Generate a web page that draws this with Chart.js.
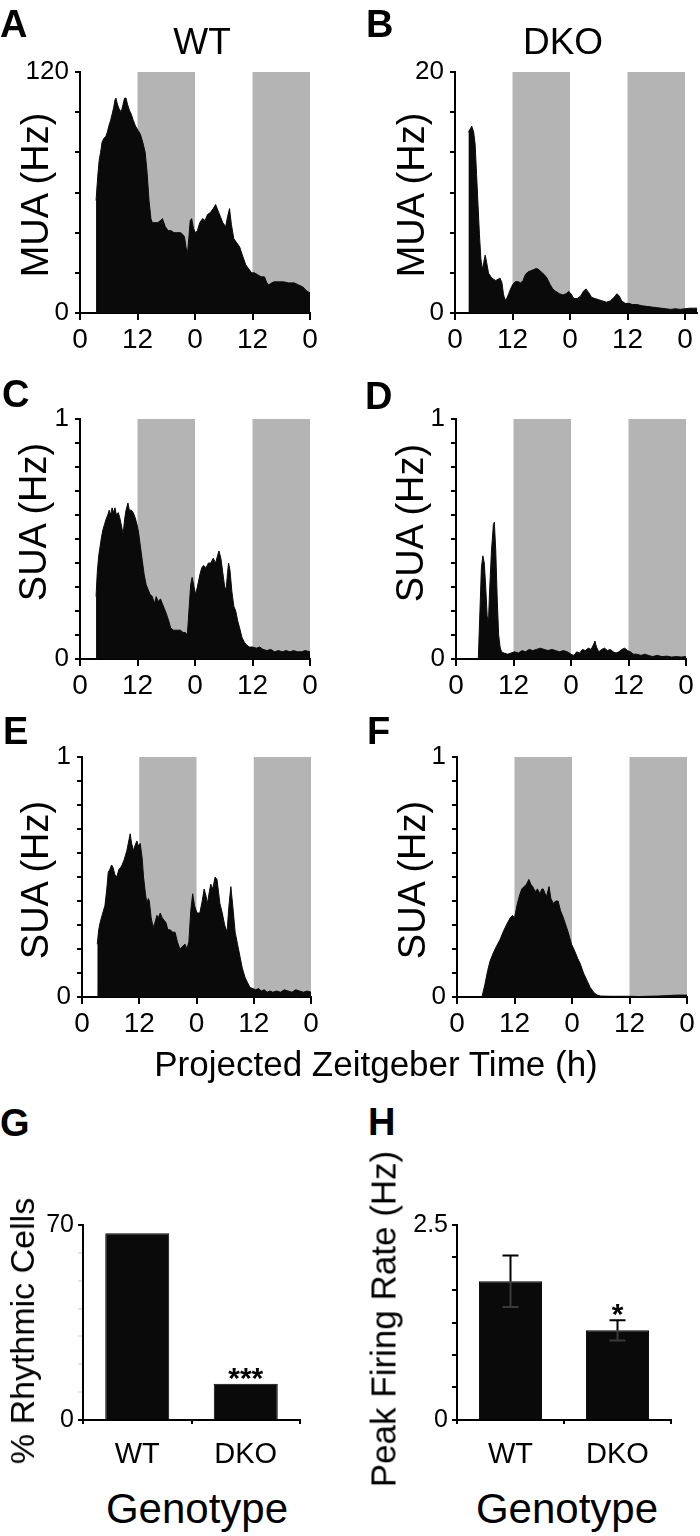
<!DOCTYPE html>
<html>
<head>
<meta charset="utf-8">
<title>Firing rate WT vs DKO</title>
<script src="https://cdn.jsdelivr.net/npm/chart.js"></script>
<style>
  body { margin: 0; background: #fff; }
  #page { position: relative; width: 700px; height: 1536px; overflow: hidden;
          font-family: "Liberation Sans", Arial, sans-serif; color: #000; }
  #page canvas { position: absolute; }
  .txt { position: absolute; line-height: 1; white-space: nowrap; }
  .letter { font-weight: bold; font-size: 38px; }
  .rot { transform: translate(-50%, -50%) rotate(-90deg); }
  .ctr { transform: translateX(-50%); }
</style>
</head>
<body>
<div id="page">
  <canvas id="chartA"></canvas>
  <canvas id="chartB"></canvas>
  <canvas id="chartC"></canvas>
  <canvas id="chartD"></canvas>
  <canvas id="chartE"></canvas>
  <canvas id="chartF"></canvas>
  <canvas id="chartG"></canvas>
  <canvas id="chartH"></canvas>

  <div class="txt letter" style="left:0px;top:5px">A</div>
  <div class="txt letter" style="left:366px;top:5px">B</div>
  <div class="txt letter" style="left:2px;top:375px">C</div>
  <div class="txt letter" style="left:365px;top:377px">D</div>
  <div class="txt letter" style="left:3px;top:712px">E</div>
  <div class="txt letter" style="left:367px;top:712px">F</div>
  <div class="txt letter" style="left:0px;top:1104px">G</div>
  <div class="txt letter" style="left:368px;top:1103px">H</div>

  <div class="txt ctr" style="left:202px;top:23px;font-size:37px">WT</div>
  <div class="txt ctr" style="left:563px;top:23px;font-size:37px">DKO</div>

  <div class="txt rot" style="left:35px;top:195px;font-size:38px">MUA (Hz)</div>
  <div class="txt rot" style="left:411px;top:195px;font-size:38px">MUA (Hz)</div>
  <div class="txt rot" style="left:33px;top:522px;font-size:38px">SUA (Hz)</div>
  <div class="txt rot" style="left:410px;top:523px;font-size:38px">SUA (Hz)</div>
  <div class="txt rot" style="left:35px;top:880px;font-size:38px">SUA (Hz)</div>
  <div class="txt rot" style="left:412px;top:880px;font-size:38px">SUA (Hz)</div>

  <div class="txt ctr" style="left:376px;top:1046px;font-size:35px">Projected Zeitgeber Time (h)</div>

  <div class="txt rot" style="left:22px;top:1331px;font-size:34px">% Rhythmic Cells</div>
  <div class="txt rot" style="left:383px;top:1319px;font-size:35px">Peak Firing Rate (Hz)</div>
  <div class="txt ctr" style="left:197px;top:1488px;font-size:42px">Genotype</div>
  <div class="txt ctr" style="left:567px;top:1488px;font-size:42px">Genotype</div>
</div>

<script>
// x axis: projected zeitgeber time, two days
const timeTicks = [0, 12, 24, 36, 48];
const darkStart = [12, 36];
const darkEnd = [24, 48];

// A - WT multi unit activity (Hz)
const aHours = [3.35, 3.7, 4.0, 4.3, 4.6, 5.0, 5.4, 5.7, 6.0, 6.4, 6.7, 7.0, 7.3, 7.5, 7.8, 8.1, 8.6, 9.0, 9.3, 9.6,
  9.9, 10.3, 10.7, 11.1, 11.6, 12.1, 12.6, 13.1, 13.6, 14.0, 14.4, 14.8, 15.1, 15.6, 16.2, 16.8, 17.2, 17.8, 18.4, 19.0,
  19.6, 20.2, 21.0, 21.5, 21.8, 22.1, 22.4, 22.7, 23.0, 23.3, 23.7, 24.1, 24.5, 25.0, 25.6, 26.1, 26.6, 27.2, 27.8, 28.3,
  28.8, 29.3, 29.8, 30.4, 30.8, 31.2, 31.6, 32.1, 32.7, 33.3, 34.0, 34.6, 35.2, 35.8, 36.4, 37.1, 37.8, 38.5, 39.0, 39.4,
  40.0, 40.5, 41.5, 42.5, 43.5, 44.7, 45.6, 46.5, 47.3, 48.0];
const aRate = [56, 68, 76, 80, 85, 87, 88, 90, 93, 96, 99, 102, 106, 107, 104, 102, 100, 104, 107, 107,
  104, 101, 99, 96, 93, 91, 89, 85, 80, 70, 56, 47, 45, 45, 45, 46, 47, 43, 41, 41,
  40, 40, 40, 39, 38, 33, 29, 37, 46, 47, 42, 40, 41, 45, 47, 46, 49, 50, 52, 54,
  51, 48, 45, 43, 48, 52, 44, 37, 35, 33, 28, 24, 22, 20, 20, 19, 18, 18, 15, 14,
  15, 15.5, 15.5, 15.5, 15, 15, 14, 13, 11, 10];

// B - DKO multi unit activity (Hz)
const bHours = [2.8, 3.2, 3.5, 3.9, 4.2, 4.5, 4.8, 5.1, 5.4, 5.7, 6.0, 6.3, 6.6, 7.0, 7.5, 8.0, 8.5, 9.0, 9.4, 9.8,
  10.1, 10.4, 10.8, 11.2, 11.6, 12.1, 12.6, 13.2, 13.7, 14.2, 14.7, 15.2, 15.8, 16.4, 17.0, 17.5, 18.0, 18.6, 19.2, 19.8,
  20.4, 21.0, 21.8, 22.5, 23.2, 23.7, 24.2, 24.8, 25.5, 26.2, 26.8, 27.3, 27.9, 28.5, 29.2, 30.0, 30.8, 31.6, 32.4, 33.2,
  33.8, 34.3, 34.8, 35.5, 36.3, 37.0, 38.0, 39.0, 40.0, 41.0, 42.0, 43.0, 44.0, 45.0, 46.0, 47.0, 48.0, 49.0, 50.5];
const bRate = [15.0, 15.3, 15.5, 15.0, 14.0, 11.5, 9.0, 6.5, 4.5, 3.6, 4.2, 4.8, 4.2, 3.3, 3.0, 2.8, 2.7, 2.8, 2.9, 2.5,
  1.6, 1.1, 1.2, 1.6, 2.0, 2.4, 2.6, 2.6, 2.5, 2.7, 3.2, 3.4, 3.5, 3.6, 3.7, 3.6, 3.4, 3.2, 2.9, 2.4,
  2.0, 1.8, 1.6, 1.5, 1.6, 1.8, 1.6, 1.2, 1.2, 1.4, 1.8, 2.0, 1.7, 1.3, 1.2, 1.1, 1.0, 0.9, 1.0, 1.3,
  1.6, 1.4, 1.0, 0.8, 0.8, 0.7, 0.7, 0.6, 0.55, 0.5, 0.45, 0.4, 0.35, 0.3, 0.35, 0.3, 0.35, 0.4, 0.4];

// C - WT single unit activity (Hz)
const cHours = [3.35, 3.6, 3.9, 4.2, 4.5, 4.8, 5.1, 5.4, 5.8, 6.1, 6.4, 6.7, 7.0, 7.3, 7.6, 8.0, 8.4, 8.7, 9.0, 9.3,
  9.6, 10.0, 10.3, 10.7, 11.1, 11.5, 11.9, 12.2, 12.6, 13.0, 13.4, 13.8, 14.2, 14.6, 15.1, 15.5, 15.9, 16.3, 16.8, 17.2,
  17.6, 18.0, 18.5, 18.9, 19.5, 20.2, 21.0, 21.5, 22.0, 22.4, 22.8, 23.1, 23.4, 23.8, 24.1, 24.5, 25.0, 25.4, 25.8, 26.3,
  26.8, 27.3, 27.8, 28.3, 28.7, 29.0, 29.4, 29.8, 30.2, 30.5, 30.8, 31.0, 31.3, 31.7, 32.1, 32.5, 32.9, 33.3, 33.8, 34.3,
  34.7, 35.3, 36.0, 36.8, 37.5, 38.2, 39.0, 39.8, 40.6, 41.4, 42.2, 43.0, 43.8, 44.6, 45.4, 46.2, 47.0, 48.0];
const cRate = [0.26, 0.36, 0.43, 0.47, 0.51, 0.54, 0.56, 0.58, 0.60, 0.62, 0.60, 0.63, 0.61, 0.63, 0.60, 0.61, 0.58, 0.55, 0.52, 0.58,
  0.62, 0.65, 0.62, 0.62, 0.61, 0.59, 0.56, 0.53, 0.47, 0.41, 0.35, 0.31, 0.29, 0.27, 0.26, 0.23, 0.26, 0.24, 0.25, 0.23,
  0.21, 0.19, 0.16, 0.13, 0.12, 0.12, 0.12, 0.11, 0.11, 0.10, 0.22, 0.31, 0.34, 0.30, 0.27, 0.30, 0.35, 0.38, 0.39, 0.38,
  0.40, 0.40, 0.42, 0.40, 0.43, 0.45, 0.42, 0.36, 0.30, 0.29, 0.36, 0.40, 0.37, 0.28, 0.22, 0.20, 0.16, 0.13, 0.09, 0.07,
  0.06, 0.05, 0.05, 0.045, 0.05, 0.04, 0.035, 0.04, 0.03, 0.035, 0.03, 0.035, 0.03, 0.035, 0.03, 0.03, 0.035, 0.03];

// D - DKO single unit activity (Hz)
const dHours = [4.65, 5.0, 5.3, 5.6, 5.9, 6.2, 6.5, 6.75, 7.0, 7.4, 7.8, 8.0, 8.3, 8.6, 8.9, 9.2, 9.5, 10.0, 10.8, 11.5,
  12.2, 13.0, 13.8, 14.5, 15.3, 16.0, 16.8, 17.6, 18.4, 19.2, 20.0, 20.8, 21.6, 22.4, 23.2, 24.0, 24.6, 25.2, 25.8, 26.4,
  27.0, 27.6, 28.2, 28.7, 29.0, 29.3, 29.8, 30.4, 31.0, 31.6, 32.2, 32.8, 33.4, 34.0, 34.6, 35.2, 35.8, 36.4, 37.0, 37.8,
  38.6, 39.4, 40.2, 41.0, 42.0, 43.0, 44.0, 45.0, 46.0, 47.0, 48.0];
const dRate = [0, 0.20, 0.38, 0.43, 0.40, 0.30, 0.18, 0.14, 0.28, 0.45, 0.56, 0.57, 0.45, 0.25, 0.10, 0.05, 0.03, 0.025, 0.02, 0.025,
  0.03, 0.025, 0.035, 0.03, 0.04, 0.035, 0.04, 0.045, 0.04, 0.035, 0.04, 0.035, 0.03, 0.035, 0.03, 0.02, 0.015, 0.03, 0.025, 0.04,
  0.035, 0.045, 0.04, 0.06, 0.075, 0.05, 0.03, 0.04, 0.045, 0.035, 0.04, 0.03, 0.025, 0.03, 0.04, 0.045, 0.035, 0.03, 0.02, 0.02,
  0.015, 0.02, 0.015, 0.01, 0.015, 0.01, 0.012, 0.008, 0.01, 0.008, 0.01];

// E - WT single unit activity (Hz)
const eHours = [3.2, 3.5, 3.8, 4.2, 4.8, 5.2, 5.5, 5.8, 6.2, 6.5, 6.9, 7.3, 7.7, 8.1, 8.4, 8.8, 9.1, 9.4, 9.8, 10.1,
  10.4, 10.8, 11.1, 11.5, 11.8, 12.2, 12.6, 12.9, 13.3, 13.6, 13.9, 14.1, 14.5, 14.9, 15.3, 15.7, 16.0, 16.4, 16.8, 17.2,
  17.6, 18.0, 18.5, 19.0, 19.5, 20.0, 20.5, 21.0, 21.6, 22.0, 22.4, 22.8, 23.2, 23.6, 24.1, 24.7, 25.2, 25.6, 26.0, 26.3,
  26.7, 27.0, 27.4, 27.9, 28.3, 28.6, 28.9, 29.4, 29.9, 30.4, 30.8, 31.2, 31.6, 32.1, 32.6, 33.1, 33.6, 34.2, 34.7, 35.2,
  35.8, 36.4, 37.0, 37.6, 38.2, 38.8, 39.4, 40.0, 40.8, 41.6, 42.4, 43.2, 44.0, 44.8, 45.6, 46.4, 47.2, 48.0];
const eRate = [0.22, 0.28, 0.31, 0.34, 0.38, 0.45, 0.52, 0.53, 0.55, 0.54, 0.51, 0.50, 0.53, 0.54, 0.55, 0.57, 0.59, 0.61, 0.65, 0.68,
  0.64, 0.61, 0.63, 0.65, 0.63, 0.64, 0.58, 0.50, 0.43, 0.39, 0.41, 0.40, 0.33, 0.29, 0.31, 0.34, 0.33, 0.35, 0.33, 0.32,
  0.31, 0.28, 0.28, 0.27, 0.27, 0.23, 0.20, 0.21, 0.22, 0.20, 0.23, 0.36, 0.43, 0.38, 0.35, 0.35, 0.40, 0.45, 0.42, 0.39,
  0.44, 0.47, 0.45, 0.50, 0.49, 0.44, 0.39, 0.35, 0.30, 0.27, 0.38, 0.46, 0.38, 0.27, 0.22, 0.17, 0.12, 0.08, 0.06, 0.04,
  0.035, 0.03, 0.035, 0.025, 0.03, 0.02, 0.025, 0.02, 0.025, 0.02, 0.03, 0.025, 0.02, 0.03, 0.025, 0.02, 0.025, 0.02];

// F - DKO single unit activity (Hz)
const fHours = [5.2, 5.8, 6.4, 6.9, 7.5, 8.2, 9.0, 9.6, 10.3, 11.1, 11.6, 12.0, 12.5, 13.0, 13.5, 14.0, 14.5, 15.0, 15.4, 15.8,
  16.3, 16.8, 17.3, 17.7, 18.0, 18.4, 18.7, 19.2, 19.6, 20.1, 20.6, 21.1, 21.6, 22.2, 22.7, 23.2, 23.9, 24.6, 25.2, 25.7,
  26.4, 27.1, 27.8, 28.5, 29.2, 30.0, 32.0, 34.0, 36.0, 38.0, 40.0, 42.0, 44.0, 46.0, 48.0];
const fRate = [0, 0.05, 0.11, 0.15, 0.18, 0.21, 0.24, 0.27, 0.30, 0.33, 0.34, 0.33, 0.38, 0.42, 0.45, 0.46, 0.47, 0.49, 0.47, 0.46,
  0.44, 0.45, 0.43, 0.45, 0.45, 0.43, 0.42, 0.46, 0.41, 0.39, 0.40, 0.40, 0.36, 0.33, 0.30, 0.27, 0.22, 0.19, 0.16, 0.14,
  0.10, 0.07, 0.04, 0.02, 0.008, 0.004, 0.003, 0.003, 0.003, 0.002, 0.003, 0.004, 0.006, 0.008, 0.008];

// G, H - summary bars
const genotypes = ['WT', 'DKO'];
const rhythmicPct = [67, 13];
const rhythmicSig = ['', '***'];
const peakRate = [1.78, 1.15];
const peakSem = [0.33, 0.13];
const peakSig = ['', '*'];

Chart.defaults.font.family = '"Liberation Sans", Arial, sans-serif';
Chart.defaults.color = '#000';

// size the canvas so the plot area lands on the given page box
function placeCanvas(id, area, padTop, padRight, yW, xH) {
  const c = document.getElementById(id);
  const w = area.r - area.l + yW + padRight;
  const h = area.b - area.t + padTop + xH;
  c.width = w;
  c.height = h;
  c.style.width = w + 'px';
  c.style.height = h + 'px';
  c.style.left = (area.l - yW) + 'px';
  c.style.top = (area.t - padTop) + 'px';
  return c;
}

// grey shading for the projected night
const darkBands = {
  id: 'darkBands',
  beforeDatasetsDraw(chart) {
    const x = chart.scales.x, a = chart.chartArea, ctx = chart.ctx;
    ctx.save();
    ctx.fillStyle = '#b4b4b4';
    darkStart.forEach((s, i) => {
      const x0 = x.getPixelForValue(s);
      const x1 = x.getPixelForValue(darkEnd[i]);
      ctx.fillRect(x0, a.top, x1 - x0, a.bottom - a.top - 1);
    });
    ctx.restore();
  }
};

function evenTicks(n) {
  return s => {
    const out = [];
    for (let i = 0; i <= n; i++) out.push({ value: s.max * i / n });
    s.ticks = out;
  };
}

function endLabels(v, i, t) {
  return (i === 0 || i === t.length - 1) ? String(+v.toFixed(2)) : '';
}

function timeChart(id, area, hours, rate, yMax, nTicks, xMax) {
  const yW = 80, xH = 50, padTop = 30, padRight = 16;
  const canvas = placeCanvas(id, area, padTop, padRight, yW, xH);
  return new Chart(canvas, {
    type: 'line',
    data: {
      datasets: [{
        data: hours.map((h, i) => ({ x: h, y: rate[i] })),
        fill: 'origin',
        backgroundColor: '#0a0a0a',
        borderColor: '#0a0a0a',
        borderWidth: 1,
        pointRadius: 0,
        tension: 0
      }]
    },
    options: {
      responsive: false,
      animation: false,
      layout: { padding: { top: padTop, right: padRight, left: 0, bottom: 0 } },
      plugins: { legend: { display: false }, tooltip: { enabled: false } },
      scales: {
        x: {
          type: 'linear', min: 0, max: xMax || 48,
          afterBuildTicks: s => { s.ticks = timeTicks.map(v => ({ value: v })); },
          afterFit: s => { s.height = xH; },
          border: { color: '#000', width: 2 },
          grid: { drawOnChartArea: false, drawTicks: true, tickLength: 7, color: '#000', lineWidth: 2 },
          ticks: { font: { size: 28 }, padding: 3, maxRotation: 0, autoSkip: false,
                   callback: v => (v % 24 === 0 ? '0' : '12') }
        },
        y: {
          min: 0, max: yMax,
          afterBuildTicks: evenTicks(nTicks),
          afterFit: s => { s.width = yW; },
          border: { color: '#000', width: 2 },
          grid: { drawOnChartArea: false, drawTicks: true, tickLength: 5, color: '#000', lineWidth: 2 },
          ticks: { font: { size: 26 }, padding: 6, autoSkip: false, callback: endLabels }
        }
      }
    },
    plugins: [darkBands]
  });
}

// error bars and significance stars
const barMarks = {
  id: 'barMarks',
  afterDatasetsDraw(chart) {
    const ctx = chart.ctx, y = chart.scales.y;
    const ds = chart.data.datasets[0];
    ctx.save();
    chart.getDatasetMeta(0).data.forEach((bar, i) => {
      const v = ds.data[i];
      const e = ds.sem ? ds.sem[i] : 0;
      const yv = y.getPixelForValue(v);
      if (e) {
        const yt = y.getPixelForValue(v + e), yb = y.getPixelForValue(v - e);
        ctx.lineWidth = 2;
        ctx.strokeStyle = '#000';
        ctx.beginPath();
        ctx.moveTo(bar.x, yv); ctx.lineTo(bar.x, yt);
        ctx.moveTo(bar.x - 8, yt); ctx.lineTo(bar.x + 8, yt);
        ctx.stroke();
        ctx.strokeStyle = '#3a3a3a';
        ctx.beginPath();
        ctx.moveTo(bar.x, yv); ctx.lineTo(bar.x, yb);
        ctx.moveTo(bar.x - 8, yb); ctx.lineTo(bar.x + 8, yb);
        ctx.stroke();
      }
      if (ds.sig && ds.sig[i]) {
        ctx.fillStyle = '#000';
        ctx.font = 'bold 30px "Liberation Sans", Arial, sans-serif';
        ctx.textAlign = 'center';
        ctx.textBaseline = 'alphabetic';
        ctx.fillText(ds.sig[i], bar.x, y.getPixelForValue(v + e) + 4);
      }
    });
    ctx.restore();
  }
};

function barChart(id, area, values, sem, sig, yMax, nTicks, faint) {
  const yW = 80, xH = 60, padTop = 30, padRight = 20;
  const canvas = placeCanvas(id, area, padTop, padRight, yW, xH);
  return new Chart(canvas, {
    type: 'bar',
    data: {
      labels: genotypes,
      datasets: [{
        data: values, sem: sem, sig: sig,
        backgroundColor: '#0a0a0a', borderColor: '#000', borderWidth: 1,
        barPercentage: 0.59, categoryPercentage: 1
      }]
    },
    options: {
      responsive: false,
      animation: false,
      layout: { padding: { top: padTop, right: padRight, left: 0, bottom: 0 } },
      plugins: { legend: { display: false }, tooltip: { enabled: false } },
      scales: {
        x: {
          afterFit: s => { s.height = xH; },
          border: { color: '#000', width: 2 },
          grid: { offset: true, drawOnChartArea: false, drawTicks: true, tickLength: 4, color: '#000', lineWidth: 2 },
          ticks: { font: { size: 29 }, padding: 14 }
        },
        y: {
          min: 0, max: yMax,
          afterBuildTicks: evenTicks(nTicks),
          afterFit: s => { s.width = yW; },
          border: { color: '#000', width: 2 },
          grid: {
            drawOnChartArea: false, drawTicks: true, tickLength: 5, lineWidth: 2,
            color: c => (!faint || !c.tick || c.tick.value === 0 || c.tick.value === yMax) ? '#000' : '#e4e4e4'
          },
          ticks: { font: { size: 25 }, padding: 4, autoSkip: false, callback: endLabels }
        }
      }
    },
    plugins: [barMarks]
  });
}

timeChart('chartA', { l: 80, t: 72, r: 310, b: 313 }, aHours, aRate, 120, 6);
timeChart('chartB', { l: 455, t: 72, r: 697, b: 313 }, bHours, bRate, 20, 6, 50.5);
timeChart('chartC', { l: 80, t: 419, r: 310, b: 659 }, cHours, cRate, 1, 10);
timeChart('chartD', { l: 456, t: 419, r: 686, b: 659 }, dHours, dRate, 1, 10);
timeChart('chartE', { l: 82, t: 757, r: 311, b: 997 }, eHours, eRate, 1, 10);
timeChart('chartF', { l: 457, t: 757, r: 687, b: 997 }, fHours, fRate, 1, 10);

barChart('chartG', { l: 83, t: 1225, r: 300, b: 1420 }, rhythmicPct, null, rhythmicSig, 70, 7, true);
barChart('chartH', { l: 457, t: 1225, r: 671, b: 1420 }, peakRate, peakSem, peakSig, 2.5, 6, false);
</script>
</body>
</html>
